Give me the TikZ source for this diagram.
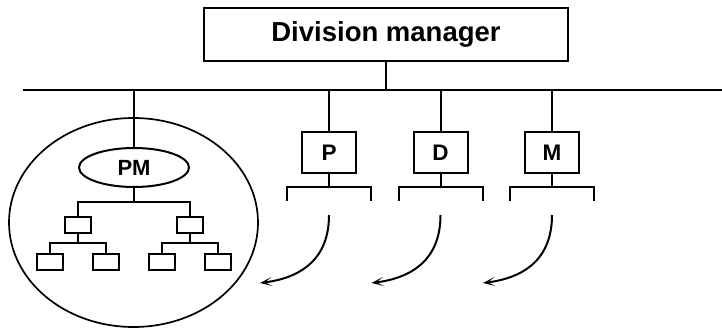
\documentclass[tikz,border=0pt]{standalone}
\usepackage{fontspec}
\setmainfont{Liberation Sans}
\usetikzlibrary{shapes.geometric,arrows.meta}
\begin{document}
\begin{tikzpicture}[x=1pt,y=-1pt,line width=2pt,
  headbox/.style={draw,rectangle,inner sep=0pt,minimum width=364pt,minimum height=53pt,
    font=\bfseries\fontsize{27.5}{27.5}\selectfont},
  unitbox/.style={draw,rectangle,inner sep=0pt,minimum width=54pt,minimum height=41pt,
    font=\bfseries\fontsize{22.5}{22.5}\selectfont},
  leafbox/.style={draw,rectangle,inner sep=0pt,minimum width=26pt,minimum height=16pt},
  pmoval/.style={draw,ellipse,inner sep=0pt,minimum width=110pt,minimum height=39pt,
    font=\bfseries\fontsize{22}{22}\selectfont},
  flow/.style={-{Stealth[length=12pt,width=9pt,inset=7pt]}}]
\useasboundingbox (0,0) rectangle (722,329);

% top manager and the common bus
\node[headbox] (dm) at (386,34.5) {Division manager};
\coordinate (busL) at (23,89.5);
\coordinate (busR) at (722,89.5);
\draw (busL) -- (busR);
\draw (dm.south) -- (dm.south |- busL);

% project organisation inside the large oval
\node[draw,ellipse,line width=1.7pt,minimum width=249pt,minimum height=209pt] (unit) at (133.5,222.5) {};
\node[pmoval] (pm) at (134,167.5) {PM};
\draw (pm.north) -- (pm.north |- busL);

\node[leafbox] (a) at (78,225) {};
\node[leafbox] (b) at (189.5,225) {};
\coordinate (pmj) at (134,202);
\draw (pm.south) -- (pmj);
\draw (a.north) |- (pmj) -| (b.north);

\node[leafbox] (a1) at (50,262) {};
\node[leafbox] (a2) at (106,262) {};
\coordinate (aj) at (78,243);
\draw (a.south) -- (aj);
\draw (a1.north) |- (aj) -| (a2.north);

\node[leafbox] (b1) at (161.5,262) {};
\node[leafbox] (b2) at (217.5,262) {};
\coordinate (bj) at (189.5,243);
\draw (b.south) -- (bj);
\draw (b1.north) |- (bj) -| (b2.north);

% functional units with their brackets and outgoing arrows
\foreach \n/\t/\x in {p/P/329, d/D/440.5, m/M/552}{
  \node[unitbox] (\n) at (\x,152.5) {\t};
  \draw (\n.north) -- (\n.north |- busL);
  \coordinate (\n br) at (\x,187);
  \coordinate (\n bl) at (\x-42,201);
  \coordinate (\n bR) at (\x+42,201);
  \draw (\n.south) -- (\n br);
  \draw (\n bl) |- (\n br) -| (\n bR);
  \coordinate (\n s) at (\x,215);
  \coordinate (\n e) at (\x-69,283);
  \draw[flow] (\n s) .. controls (\x,260) and (\x-29,278) .. (\n e);
}
\end{tikzpicture}
\end{document}
